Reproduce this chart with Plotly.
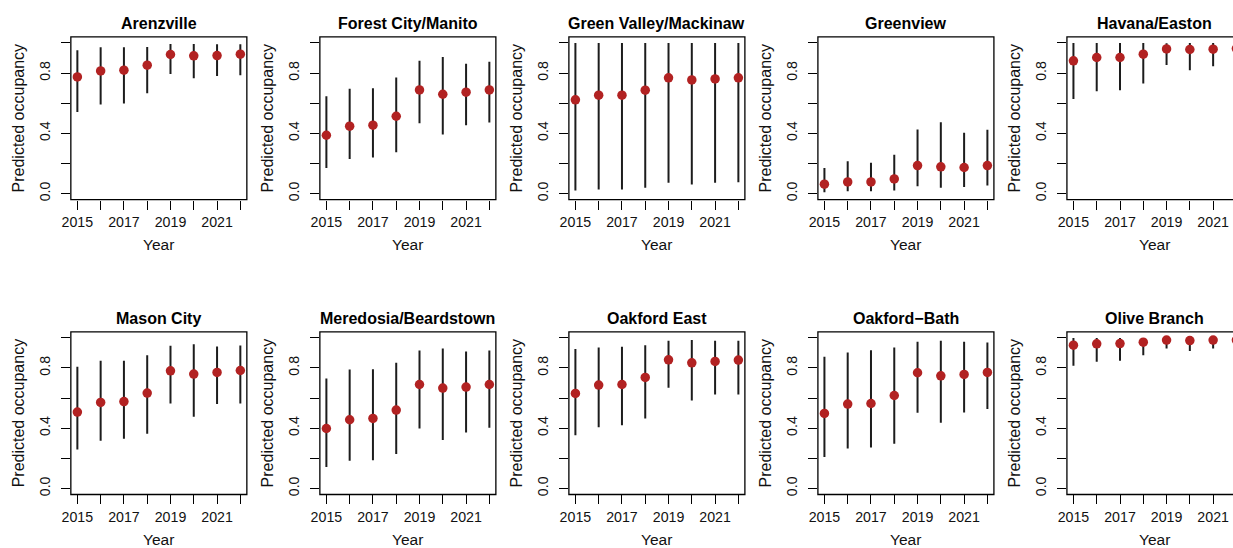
import plotly.graph_objects as go

# ---- data -------------------------------------------------------------
years = [2015, 2016, 2017, 2018, 2019, 2020, 2021, 2022]

sites = [
    "Arenzville", "Forest City/Manito", "Green Valley/Mackinaw", "Greenview",
    "Havana/Easton", "Mason City", "Meredosia/Beardstown", "Oakford East",
    "Oakford\u2212Bath", "Olive Branch",
]

arenzville_mean = [0.774, 0.814, 0.819, 0.852, 0.923, 0.914, 0.916, 0.925]
arenzville_lo = [0.542, 0.591, 0.597, 0.666, 0.794, 0.765, 0.781, 0.785]
arenzville_hi = [0.951, 0.971, 0.971, 0.973, 0.993, 0.993, 0.991, 0.991]

forest_mean = [0.387, 0.447, 0.454, 0.513, 0.688, 0.659, 0.673, 0.688]
forest_lo = [0.170, 0.230, 0.239, 0.274, 0.467, 0.392, 0.454, 0.471]
forest_hi = [0.646, 0.695, 0.699, 0.770, 0.881, 0.907, 0.861, 0.874]

greenvalley_mean = [0.622, 0.653, 0.653, 0.686, 0.768, 0.754, 0.761, 0.768]
greenvalley_lo = [0.020, 0.027, 0.027, 0.038, 0.071, 0.060, 0.071, 0.075]
greenvalley_hi = [0.999, 0.999, 0.999, 0.999, 0.999, 0.999, 0.999, 0.999]

greenview_mean = [0.062, 0.077, 0.077, 0.097, 0.186, 0.177, 0.173, 0.186]
greenview_lo = [0.009, 0.015, 0.015, 0.020, 0.049, 0.038, 0.044, 0.053]
greenview_hi = [0.170, 0.215, 0.204, 0.257, 0.425, 0.473, 0.403, 0.423]

havana_mean = [0.881, 0.903, 0.903, 0.925, 0.960, 0.956, 0.958, 0.962]
havana_lo = [0.628, 0.679, 0.686, 0.730, 0.854, 0.819, 0.845, 0.860]
havana_hi = [0.999, 0.999, 0.999, 0.999, 0.998, 0.999, 0.999, 0.998]

mason_mean = [0.507, 0.571, 0.577, 0.633, 0.781, 0.759, 0.770, 0.783]
mason_lo = [0.259, 0.316, 0.330, 0.363, 0.564, 0.476, 0.560, 0.564]
mason_hi = [0.808, 0.847, 0.847, 0.885, 0.947, 0.958, 0.942, 0.949]

meredosia_mean = [0.398, 0.456, 0.465, 0.520, 0.690, 0.666, 0.673, 0.690]
meredosia_lo = [0.142, 0.184, 0.188, 0.228, 0.398, 0.321, 0.372, 0.403]
meredosia_hi = [0.730, 0.790, 0.792, 0.834, 0.916, 0.929, 0.909, 0.916]

oakeast_mean = [0.631, 0.686, 0.690, 0.737, 0.854, 0.834, 0.843, 0.852]
oakeast_lo = [0.354, 0.407, 0.420, 0.465, 0.668, 0.584, 0.624, 0.624]
oakeast_hi = [0.925, 0.936, 0.940, 0.951, 0.980, 0.985, 0.980, 0.980]

oakbath_mean = [0.498, 0.560, 0.564, 0.617, 0.768, 0.748, 0.757, 0.770]
oakbath_lo = [0.208, 0.265, 0.272, 0.296, 0.502, 0.436, 0.504, 0.527]
oakbath_hi = [0.874, 0.903, 0.918, 0.936, 0.973, 0.980, 0.973, 0.969]

olive_mean = [0.951, 0.960, 0.962, 0.971, 0.985, 0.982, 0.985, 0.985]
olive_lo = [0.814, 0.841, 0.847, 0.885, 0.929, 0.912, 0.929, 0.930]
olive_hi = [0.999, 0.999, 0.999, 0.999, 0.999, 0.999, 0.999, 0.999]

means = [arenzville_mean, forest_mean, greenvalley_mean, greenview_mean, havana_mean,
         mason_mean, meredosia_mean, oakeast_mean, oakbath_mean, olive_mean]
lows = [arenzville_lo, forest_lo, greenvalley_lo, greenview_lo, havana_lo,
        mason_lo, meredosia_lo, oakeast_lo, oakbath_lo, olive_lo]
highs = [arenzville_hi, forest_hi, greenvalley_hi, greenview_hi, havana_hi,
         mason_hi, meredosia_hi, oakeast_hi, oakbath_hi, olive_hi]

y_ticks = [0.0, 0.2, 0.4, 0.6, 0.8, 1.0]
y_ticktext = ["0.0", "", "0.4", "", "0.8", ""]
x_ticktext = ["2015", "", "2017", "", "2019", "", "2021", ""]

# ---- page geometry (pixels) ------------------------------------------
W, H = 1233, 548
COL_LEFT = [62.3 + i * 250.85 for i in range(5)]
BOX_W = 177.3
ROW_TOP = [37.0, 333.0]
BOX_H = 163.3
X_RANGE = [2014.72, 2022.28]
Y_RANGE = [-0.04, 1.04]
PX_PER_YEAR = BOX_W / (X_RANGE[1] - X_RANGE[0])

FONT = "Liberation Sans, Arial, Helvetica, sans-serif"
POINT_COLOR = "#B22222"
BAR_COLOR = "#1c1c1c"


def px_x(px):
    return px / W


def px_y(py):
    return 1 - py / H


fig = go.Figure()
shapes = []
annotations = []

for k, name in enumerate(sites):
    r, c = divmod(k, 5)
    idx = "" if k == 0 else str(k + 1)
    left = COL_LEFT[c]
    right = left + BOX_W
    top = ROW_TOP[r]
    bottom = top + BOX_H

    # the last column runs past the page edge, so its axis is truncated there
    dom_right = min(right, W)
    x_range = [X_RANGE[0], X_RANGE[0] + (dom_right - left) / PX_PER_YEAR]

    m = means[k]
    err_plus = [h - v for h, v in zip(highs[k], m)]
    err_minus = [v - l for v, l in zip(m, lows[k])]

    fig.add_trace(go.Scatter(
        x=years, y=m, mode="markers",
        xaxis="x" + idx, yaxis="y" + idx,
        marker=dict(size=9.5, color=POINT_COLOR, line=dict(width=0)),
        error_y=dict(type="data", symmetric=False, array=err_plus,
                     arrayminus=err_minus, color=BAR_COLOR, thickness=2, width=0),
        showlegend=False, hoverinfo="skip",
    ))

    axis_common = dict(showgrid=False, zeroline=False, showline=False,
                       ticks="outside", ticklen=9, tickwidth=1.2, tickcolor="black",
                       tickfont=dict(family=FONT, size=14.2, color="#111"))

    fig.update_layout({
        "xaxis" + idx: dict(
            domain=[px_x(left), px_x(dom_right)], range=x_range,
            anchor="y" + idx, tickvals=years, ticktext=x_ticktext,
            **axis_common),
        "yaxis" + idx: dict(
            domain=[px_y(bottom), px_y(top)], range=Y_RANGE,
            anchor="x" + idx, tickvals=y_ticks, ticktext=y_ticktext,
            tickangle=-90, ticklabelstandoff=5, **axis_common),
    })

    # plot frame
    shapes.append(dict(type="rect", xref="paper", yref="paper",
                       x0=px_x(left), x1=px_x(right), y0=px_y(bottom), y1=px_y(top),
                       line=dict(color="black", width=1.3), fillcolor="rgba(0,0,0,0)"))

    cx = (left + right) / 2
    cy = (top + bottom) / 2
    annotations.append(dict(text="<b>%s</b>" % name, xref="paper", yref="paper",
                            x=px_x(cx), y=px_y(top - 13.5), showarrow=False,
                            xanchor="center", yanchor="middle",
                            font=dict(family=FONT, size=16, color="black")))
    annotations.append(dict(text="Predicted occupancy", xref="paper", yref="paper",
                            x=px_x(left - 53), y=px_y(cy), showarrow=False,
                            textangle=-90, xanchor="center", yanchor="middle",
                            font=dict(family=FONT, size=16, color="#111")))
    annotations.append(dict(text="Year", xref="paper", yref="paper",
                            x=px_x(cx), y=px_y(bottom + 45.5), showarrow=False,
                            xanchor="center", yanchor="middle",
                            font=dict(family=FONT, size=15.5, color="#111")))

fig.update_layout(
    width=W, height=H,
    margin=dict(l=0, r=0, t=0, b=0),
    paper_bgcolor="white", plot_bgcolor="white",
    shapes=shapes, annotations=annotations,
    font=dict(family=FONT, color="black"),
)

fig.write_html("out.html")
